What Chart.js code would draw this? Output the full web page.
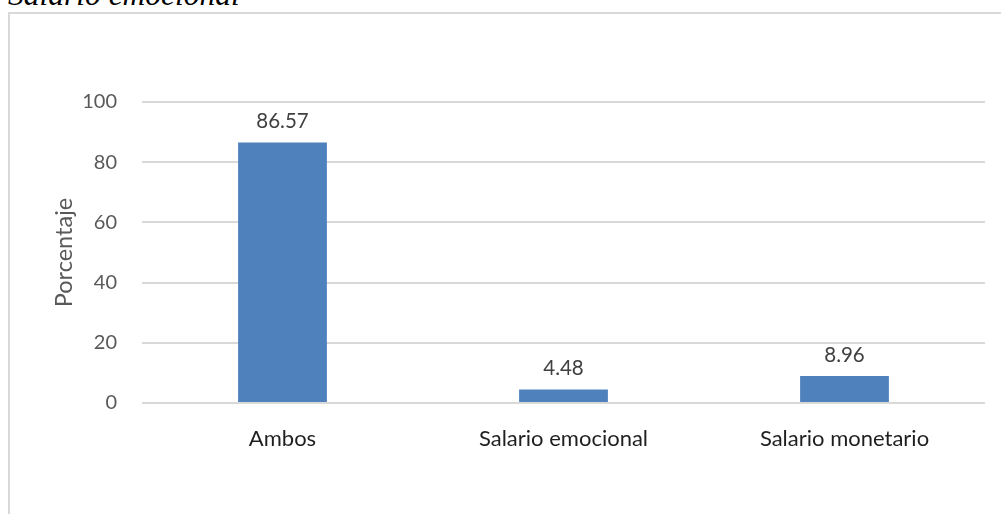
<!DOCTYPE html>
<html lang="es">
<head>
<meta charset="UTF-8">
<title>Salario emocional</title>
<script src="https://cdn.jsdelivr.net/npm/chart.js@4.4.0/dist/chart.umd.min.js"></script>
<style>
    body { margin: 0; background: #fff; overflow: hidden; }
    #wrap { position: relative; width: 1001px; height: 514px; }
    #caption {
        position: absolute; left: 8px; top: -21px;
        font: italic 31.5px/31px "Liberation Serif", "Times New Roman", serif;
        color: #000; white-space: nowrap;
    }
    #frame {
        position: absolute; left: 8px; top: 12px; width: 1100px; height: 600px;
        border: 2px solid #d9d9d9; box-sizing: border-box;
    }
    #myChart { position: absolute; left: 0; top: 0; }
</style>
</head>
<body>
<div id="wrap">
    <div id="caption">Salario emocional</div>
    <div id="frame"></div>
    <canvas id="myChart" width="1001" height="514"></canvas>
</div>

<script>
    const categories = ["Ambos", "Salario emocional", "Salario monetario"];
    const percentages = [86.57, 4.48, 8.96];
    const yTicks = [0, 20, 40, 60, 80, 100];

    const fontFamily = "Lato, 'Open Sans', sans-serif";

    // value labels above each bar
    const barLabels = {
        id: "barLabels",
        afterDatasetsDraw(chart) {
            const ctx = chart.ctx;
            const meta = chart.getDatasetMeta(0);
            ctx.save();
            ctx.font = "20.5px " + fontFamily;
            ctx.fillStyle = "#404040";
            ctx.textAlign = "center";
            ctx.textBaseline = "middle";
            meta.data.forEach((bar, i) => {
                ctx.fillText(percentages[i].toFixed(2), bar.x, bar.y - 21);
            });
            ctx.restore();
        }
    };

    new Chart("myChart", {
        type: "bar",
        data: {
            labels: categories,
            datasets: [{
                data: percentages,
                backgroundColor: "#4f81bd",
                barPercentage: 0.316,
                categoryPercentage: 1
            }]
        },
        options: {
            responsive: false,
            animation: false,
            layout: { padding: { left: 0, top: 102, right: 16, bottom: 0 } },
            plugins: {
                legend: { display: false },
                tooltip: { enabled: false }
            },
            scales: {
                x: {
                    grid: { display: false },
                    border: { display: false },
                    ticks: {
                        color: "#1f1f1f",
                        font: { family: fontFamily, size: 22 },
                        padding: 15
                    },
                    afterFit(scale) { scale.height = 111; }
                },
                y: {
                    min: 0,
                    max: 100,
                    afterBuildTicks(scale) { scale.ticks = yTicks.map(v => ({ value: v })); },
                    grid: { color: "#d9d9d9", lineWidth: 2, drawTicks: false },
                    border: { display: false },
                    ticks: {
                        color: "#595959",
                        font: { family: fontFamily, size: 20 },
                        padding: 25
                    },
                    title: {
                        display: true,
                        text: "Porcentaje",
                        color: "#595959",
                        font: { family: fontFamily, size: 23.5 },
                        padding: { top: 50, bottom: 0 }
                    },
                    afterFit(scale) { scale.width = 142; }
                }
            }
        },
        plugins: [barLabels]
    });
</script>
</body>
</html>
